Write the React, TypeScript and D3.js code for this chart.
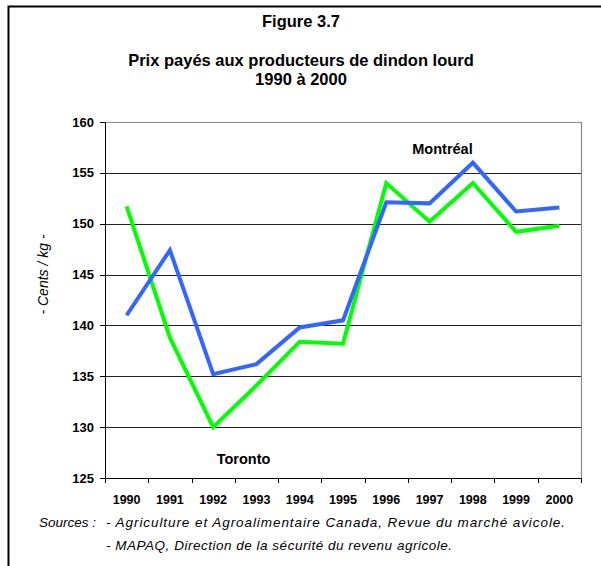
import React from "react";
import * as d3 from "d3";

const years = ["1990", "1991", "1992", "1993", "1994", "1995", "1996", "1997", "1998", "1999", "2000"];
const montreal = [141.0, 147.4, 135.2, 136.2, 139.8, 140.5, 152.1, 152.0, 156.0, 151.2, 151.6];
const toronto = [151.7, 138.8, 130.0, 134.1, 138.4, 138.2, 154.0, 150.2, 154.0, 149.2, 149.8];
const yTicks = [125, 130, 135, 140, 145, 150, 155, 160];

const W = 601;
const H = 566;
const left = 105;
const right = 581;
const top = 122;
const bottom = 478;
const font = "Arial, 'Liberation Sans', sans-serif";

export default function App() {
  const x = d3.scaleBand<string>().domain(years).range([left, right]);
  const y = d3.scaleLinear().domain([125, 160]).range([bottom, top]);
  const line = d3
    .line<number>()
    .x((_, i) => (x(years[i]) as number) + x.bandwidth() / 2)
    .y((d) => y(d));
  const boundaries = years.map((yr) => x(yr) as number).concat([right]);

  return (
    <svg
      width={W}
      height={H}
      style={{ position: "absolute", left: 0, top: 0, background: "#fff" }}
      fontFamily={font}
    >
      <rect x={0} y={0} width={W} height={H} fill="#fff" />
      <rect x={8.5} y={6.5} width={W + 10} height={H + 10} fill="none" stroke="#000" strokeWidth={2} />
      <text x={301} y={27} textAnchor="middle" fontSize={16.5} fontWeight="bold">Figure 3.7</text>
      <text x={301} y={66} textAnchor="middle" fontSize={16.5} fontWeight="bold">Prix payés aux producteurs de dindon lourd</text>
      <text x={301} y={85} textAnchor="middle" fontSize={16.5} fontWeight="bold">1990 à 2000</text>

      {/* gridlines */}
      {yTicks.slice(1).map((t) => (
        <line key={t} x1={left} x2={right} y1={Math.round(y(t)) + 0.5} y2={Math.round(y(t)) + 0.5} stroke={t === 160 ? "#888" : "#222"} strokeWidth={1} />
      ))}
      <line x1={right + 0.5} x2={right + 0.5} y1={top} y2={bottom} stroke="#888" strokeWidth={1.2} />

      {/* y axis */}
      <line x1={left + 0.5} x2={left + 0.5} y1={top} y2={bottom} stroke="#000" strokeWidth={1} />
      {yTicks.map((t) => (
        <g key={t}>
          <line x1={left - 5} x2={left} y1={Math.round(y(t)) + 0.5} y2={Math.round(y(t)) + 0.5} stroke="#000" />
          <text x={94} y={y(t) + 4.5} textAnchor="end" fontSize={13} fontWeight="bold">{t}</text>
        </g>
      ))}
      <text
        transform={`translate(48, 274.5) rotate(-90)`}
        textAnchor="middle"
        fontSize={14}
        fontStyle="italic"
      >
        - Cents / kg -
      </text>

      {/* x axis */}
      <line x1={left} x2={right + 1} y1={bottom + 0.5} y2={bottom + 0.5} stroke="#000" />
      {boundaries.map((b, i) => (
        <line key={i} x1={Math.round(b) + 0.5} x2={Math.round(b) + 0.5} y1={bottom} y2={bottom + 5} stroke="#000" />
      ))}
      {years.map((yr) => (
        <text key={yr} x={(x(yr) as number) + x.bandwidth() / 2} y={504} textAnchor="middle" fontSize={12.5} fontWeight="bold">{yr}</text>
      ))}

      {/* series */}
      <path d={line(toronto) as string} fill="none" stroke="#00FF00" strokeWidth={4} strokeLinejoin="miter" />
      <path d={line(montreal) as string} fill="none" stroke="#3366FF" strokeWidth={4} strokeLinejoin="miter" />

      <text x={442.5} y={154} textAnchor="middle" fontSize={14.5} fontWeight="bold">Montréal</text>
      <text x={243.5} y={464} textAnchor="middle" fontSize={14.5} fontWeight="bold">Toronto</text>

      {/* sources */}
      <text x={39} y={527} fontSize={13.5} fontStyle="italic">Sources :</text>
      <text x={106} y={527} fontSize={13.5} fontStyle="italic" textLength={459} lengthAdjust="spacing">- Agriculture et Agroalimentaire Canada, Revue du marché avicole.</text>
      <text x={106} y={550} fontSize={13.5} fontStyle="italic" textLength={346} lengthAdjust="spacing">- MAPAQ, Direction de la sécurité du revenu agricole.</text>
    </svg>
  );
}
